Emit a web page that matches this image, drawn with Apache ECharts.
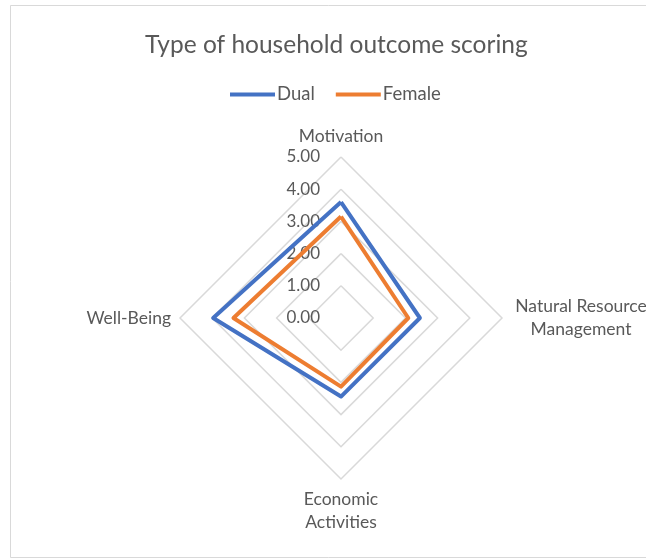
<!DOCTYPE html>
<html>
<head>
<meta charset="utf-8">
<script src="https://cdn.jsdelivr.net/npm/echarts@6/dist/echarts.min.js"></script>
<style>
html,body{margin:0;padding:0;background:#fff;}
#c{width:646px;height:559px;}
</style>
</head>
<body>
<div id="c"></div>
<script>
// Categories in the chart's clockwise order (starting at the top)
const categories = ['Motivation', 'Natural Resource\nManagement', 'Economic\nActivities', 'Well-Being'];
const dual = [3.60, 2.45, 2.44, 3.97];
const female = [3.15, 2.09, 2.13, 3.34];
const tickLabels = ['0.00', '1.00', '2.00', '3.00', '4.00', '5.00'];
const axisMin = 0, axisMax = 5;

// ECharts lays radar indicators counter-clockwise: reorder so the result reads clockwise
const order = [0, 3, 2, 1];
const pick = arr => order.map(i => arr[i]);

const FONT = 'Lato, "Open Sans", sans-serif';
const TXT = '#595959';
const center = [341, 318];
const radius = 161;

const chart = echarts.init(document.getElementById('c'), null, {renderer: 'canvas'});
chart.setOption({
  backgroundColor: '#fff',
  animation: false,
  title: {
    text: 'Type of household outcome scoring',
    left: 140, top: 28,
    textStyle: {fontFamily: FONT, fontSize: 24.5, fontWeight: 'normal', color: TXT}
  },
  legend: {
    top: 80, left: 225,
    itemWidth: 45, itemHeight: 4, itemGap: 21,
    icon: 'rect',
    textStyle: {fontFamily: FONT, fontSize: 18.5, color: TXT, padding: [0,0,0,-3]},
    data: ['Dual', 'Female']
  },
  radar: [{
    center: center, radius: radius, shape: 'polygon', startAngle: 90,
    splitNumber: 5,
    indicator: pick(categories).map(n => ({name: n, min: axisMin, max: axisMax})),
    axisName: {
      color: TXT, fontFamily: FONT, fontSize: 17.5, lineHeight: 23,
      formatter: n => n.indexOf('Natural') === 0
        ? n.split('\n').map(s => '{c|' + s + '}').join('\n')
        : n,
      rich: {c: {width: 140, align: 'center', color: TXT, fontFamily: FONT, fontSize: 17.5, lineHeight: 23, padding: [0, 0, 0, 0]}}
    },
    nameGap: 9,
    axisLine: {show: false},
    splitLine: {lineStyle: {color: '#D9D9D9', width: 1.5}},
    splitArea: {show: false},
    axisLabel: {show: false}
  }, {
    center: center, radius: radius, startAngle: 90,
    splitNumber: 5,
    indicator: [{name: '', min: axisMin, max: axisMax}],
    axisLine: {show: false},
    axisTick: {show: false},
    splitLine: {show: false},
    splitArea: {show: false},
    axisName: {show: false},
    axisLabel: {
      show: true, showMinLabel: true, showMaxLabel: true, margin: 21,
      color: TXT, fontFamily: FONT, fontSize: 17,
      formatter: v => tickLabels[Math.round(v)]
    }
  }],
  series: [{
    type: 'radar', radarIndex: 0, symbol: 'none',
    data: [
      {name: 'Dual', value: pick(dual), lineStyle: {color: '#4472C4', width: 4}, itemStyle: {color: '#4472C4'}},
      {name: 'Female', value: pick(female), lineStyle: {color: '#ED7D31', width: 4}, itemStyle: {color: '#ED7D31'}}
    ]
  }],
  graphic: [{
    type: 'rect', shape: {x: 10.5, y: 5.5, width: 700, height: 552},
    style: {fill: 'none', stroke: '#D9D9D9', lineWidth: 1}, silent: true
  }]
});
</script>
</body>
</html>
